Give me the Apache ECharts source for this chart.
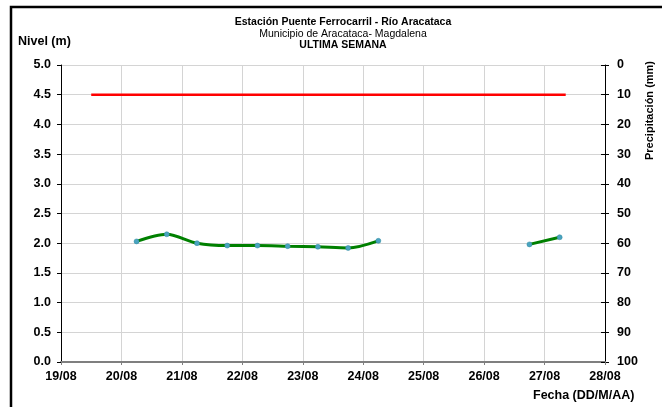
<!DOCTYPE html>
<html>
<head>
<meta charset="utf-8">
<script src="https://cdn.jsdelivr.net/npm/echarts@6/dist/echarts.min.js"></script>
<style>
  html, body { margin: 0; padding: 0; background: #fff; }
  #chart { width: 662px; height: 407px; }
</style>
</head>
<body>
<div id="chart"></div>
<script>
// etiquetas del eje X (dias desde 19/08)
var fechasEje = ['19/08', '20/08', '21/08', '22/08', '23/08', '24/08', '25/08', '26/08', '27/08', '28/08'];

// lecturas de nivel: posicion en dias desde 19/08 y nivel (m); null = sin dato
var diasNivel = [1.25, 1.75, 2.25, 2.75, 3.25, 3.75, 4.25, 4.75, 5.25, 5.75, 6.25, 6.75, 7.25, 7.75, 8.25];
var nivel = [2.03, 2.15, 2.00, 1.96, 1.96, 1.95, 1.94, 1.92, 2.04, null, null, null, null, 1.98, 2.10];

// nivel de alerta (linea roja)
var diasAlerta = [0.5, 8.35];
var nivelAlerta = [4.5, 4.5];

var fuente = 'Liberation Sans, Arial, sans-serif';

var myChart = echarts.init(document.getElementById('chart'));

var datosNivel = diasNivel.map(function (d, i) {
    return [d, nivel[i] === null ? '-' : nivel[i]];
});
var datosAlerta = diasAlerta.map(function (d, i) {
    return [d, nivelAlerta[i]];
});

var etiqueta = { color: '#000', fontWeight: 'bold', fontSize: 12.5, fontFamily: fuente };

var option = {
    animation: false,
    backgroundColor: '#fff',
    textStyle: { fontFamily: fuente },
    title: [
        {
            text: 'Estación Puente Ferrocarril - Río Aracataca',
            left: 338, top: 12, textAlign: 'center',
            textStyle: { fontSize: 10.5, fontWeight: 'bold', color: '#000', fontFamily: fuente }
        },
        {
            text: 'Municipio de Aracataca- Magdalena',
            left: 338, top: 24, textAlign: 'center',
            textStyle: { fontSize: 10.5, fontWeight: 'normal', color: '#000', fontFamily: fuente }
        },
        {
            text: 'ULTIMA SEMANA',
            left: 338, top: 35, textAlign: 'center',
            textStyle: { fontSize: 10.5, fontWeight: 'bold', color: '#000', fontFamily: fuente }
        }
    ],
    graphic: [
        {
            type: 'rect',
            shape: { x: 11, y: 7, width: 700, height: 500 },
            style: { fill: 'none', stroke: '#000', lineWidth: 2.5 }
        },
        {
            type: 'text', left: 18, top: 35,
            style: { text: 'Nivel (m)', font: 'bold 12.5px ' + fuente, fill: '#000' }
        },
        {
            type: 'text', left: 533, top: 389,
            style: { text: 'Fecha (DD/M/AA)', font: 'bold 12.5px ' + fuente, fill: '#000' }
        },
        {
            type: 'text', x: 644, y: 160, rotation: Math.PI / 2,
            style: { text: 'Precipitación (mm)', font: 'bold 11px ' + fuente, fill: '#000' }
        }
    ],
    grid: { left: 61, right: 57, top: 65, bottom: 45 },
    xAxis: {
        type: 'value',
        min: 0, max: 9, interval: 1,
        axisLine: { onZero: false, lineStyle: { color: '#7f7f7f', width: 2 } },
        axisTick: { show: true, length: 3, lineStyle: { color: '#7f7f7f' } },
        axisLabel: Object.assign({}, etiqueta, {
            margin: 8,
            formatter: function (v) { return fechasEje[v]; }
        }),
        splitLine: { show: true, lineStyle: { color: '#d4d4d4', width: 1 } }
    },
    yAxis: [
        {
            type: 'value',
            min: 0, max: 5, interval: 0.5,
            axisLine: { show: true, lineStyle: { color: '#000', width: 1 } },
            axisTick: { show: true, length: 4, lineStyle: { color: '#000' } },
            axisLabel: Object.assign({}, etiqueta, {
                margin: 10,
                formatter: function (v) { return v.toFixed(1); }
            }),
            splitLine: { show: true, lineStyle: { color: '#d4d4d4', width: 1 } }
        },
        {
            type: 'value',
            min: 0, max: 100, interval: 10, inverse: true,
            position: 'right',
            axisLine: { show: true, lineStyle: { color: '#000', width: 1 } },
            axisTick: { show: true, length: 4, lineStyle: { color: '#000' } },
            axisLabel: Object.assign({}, etiqueta, { margin: 12 }),
            splitLine: { show: false }
        },
        {
            // marcas internas del eje derecho (las marcas cruzan el eje)
            type: 'value',
            min: 0, max: 100, interval: 10, inverse: true,
            position: 'right',
            axisLine: { show: false },
            axisTick: { show: true, inside: true, length: 4, lineStyle: { color: '#000' } },
            axisLabel: { show: false },
            splitLine: { show: false }
        }
    ],
    series: [
        {
            name: 'Nivel de alerta',
            type: 'line',
            data: datosAlerta,
            symbol: 'none',
            lineStyle: { color: '#ff0000', width: 2.5 },
            z: 3
        },
        {
            name: 'Nivel',
            type: 'line',
            data: datosNivel,
            smooth: 0.3,
            connectNulls: false,
            symbol: 'circle',
            symbolSize: 5,
            itemStyle: { color: '#4aa3c0', borderColor: '#2e8a9e', borderWidth: 0.5 },
            lineStyle: { color: '#008000', width: 3 },
            z: 4
        }
    ]
};

myChart.setOption(option);
</script>
</body>
</html>
